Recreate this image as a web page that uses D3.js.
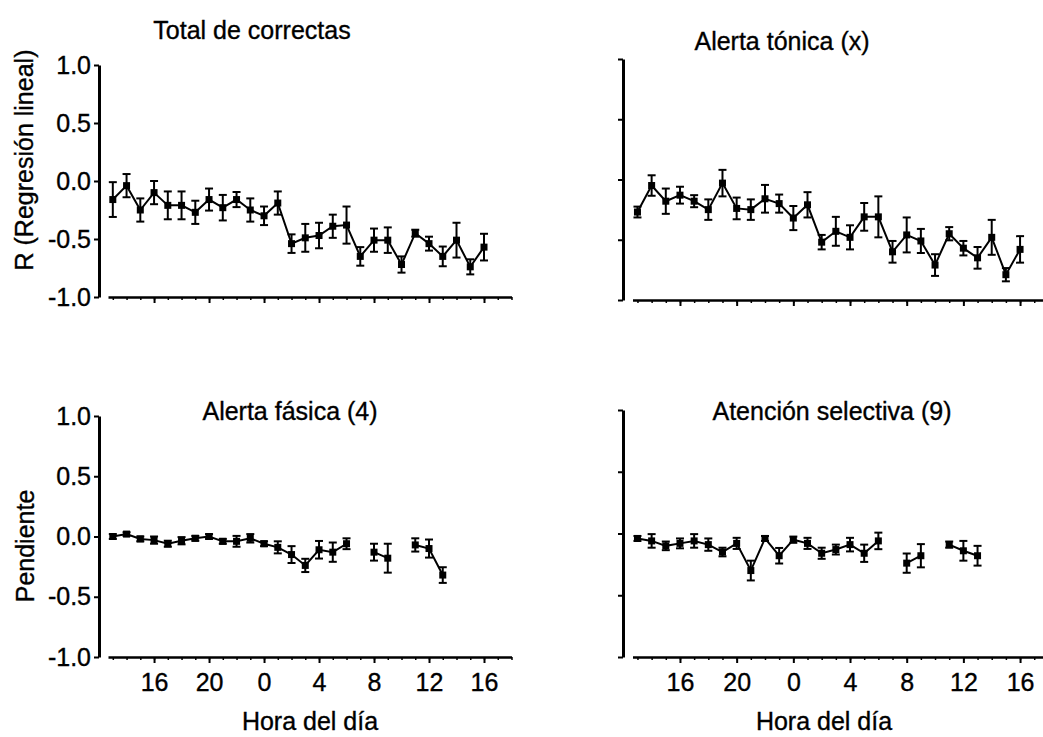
<!DOCTYPE html>
<html>
<head>
<meta charset="utf-8">
<script src="https://cdn.jsdelivr.net/npm/d3@7"></script>
<style>
  html, body { margin: 0; padding: 0; background: #fff; }
  svg text { font-family: "Liberation Sans", Arial, sans-serif; fill: #000; stroke: #000; stroke-width: 0.35px; }
</style>
</head>
<body>
<svg id="chart" width="1043" height="737"></svg>
<script>
// Hours are counted continuously from the start of the first day (24 = midnight).
const hours = d3.range(13, 41);                       // 13 .. 40, one session per hour
const hourTicks = [16, 20, 24, 28, 32, 36, 40];
const hourTickLabels = ["16", "20", "0", "4", "8", "12", "16"];
const minorHours = d3.range(13, 43);
const yTicks = [1.0, 0.5, 0.0, -0.5, -1.0];

// Total de correctas: R of linear regression (mean, SEM)
const totalMean = [-0.16, -0.04, -0.25, -0.10, -0.21, -0.21, -0.27, -0.16, -0.23, -0.16, -0.25, -0.30, -0.19, -0.54,
                   -0.49, -0.47, -0.39, -0.38, -0.65, -0.51, -0.51, -0.72, -0.45, -0.54, -0.65, -0.51, -0.74, -0.57];
const totalErr  = [0.15, 0.10, 0.10, 0.10, 0.12, 0.12, 0.10, 0.095, 0.11, 0.065, 0.10, 0.08, 0.10, 0.08,
                   0.12, 0.11, 0.10, 0.16, 0.08, 0.10, 0.11, 0.07, 0.03, 0.06, 0.085, 0.15, 0.065, 0.115];

// Alerta tónica
const tonicMean = [-0.27, -0.05, -0.18, -0.13, -0.18, -0.25, -0.03, -0.24, -0.25, -0.16, -0.20, -0.32, -0.21, -0.52,
                   -0.43, -0.48, -0.31, -0.31, -0.60, -0.46, -0.51, -0.71, -0.45, -0.57, -0.65, -0.48, -0.79, -0.58];
const tonicErr  = [0.045, 0.085, 0.105, 0.07, 0.05, 0.085, 0.11, 0.09, 0.085, 0.115, 0.075, 0.10, 0.105, 0.06,
                   0.12, 0.10, 0.115, 0.17, 0.09, 0.145, 0.10, 0.09, 0.055, 0.06, 0.09, 0.145, 0.055, 0.11];

// Alerta fásica: slope (null = no session at that hour)
const phasicMean = [0.00, 0.02, -0.02, -0.03, -0.06, -0.035, -0.015, 0.00, -0.04, -0.04, -0.015, -0.06, -0.09, -0.15,
                    -0.24, -0.11, -0.13, -0.06, null, -0.13, -0.18, null, -0.07, -0.10, -0.32, null, null, null];
const phasicErr  = [0.02, 0.015, 0.02, 0.03, 0.025, 0.03, 0.02, 0.02, 0.02, 0.045, 0.035, 0.02, 0.05, 0.07,
                    0.055, 0.073, 0.08, 0.045, null, 0.07, 0.12, null, 0.055, 0.075, 0.065, null, null, null];

// Atención selectiva: slope
const selectMean = [-0.04, -0.06, -0.10, -0.08, -0.06, -0.09, -0.15, -0.08, -0.30, -0.04, -0.18, -0.05, -0.08, -0.16,
                    -0.13, -0.09, -0.16, -0.06, null, -0.24, -0.18, null, -0.09, -0.14, -0.18, null, null, null];
const selectErr  = [0.02, 0.055, 0.035, 0.04, 0.055, 0.05, 0.035, 0.045, 0.08, 0.02, 0.063, 0.025, 0.045, 0.045,
                    0.04, 0.055, 0.07, 0.067, null, 0.078, 0.094, null, 0.025, 0.08, 0.08, null, null, null];

const svg = d3.select("#chart");
const FONT = 25;

function rows(mean, err) {
  return hours.map((h, i) => ({ h, v: mean[i], e: err[i] }));
}

// Panel frames: x spans the hour axis, y spans -1 .. 1
const panels = [
  { title: "Total de correctas",      tx: 252, ty: 39,  data: rows(totalMean, totalErr),
    xr: [108, 511.5], yr: [297, 65],  ax: 99,  yLabels: true,  xLabels: false },
  { title: "Alerta tónica (x)",       tx: 782, ty: 50,  data: rows(tonicMean, tonicErr),
    xr: [632.5, 1048.4], yr: [300, 59], ax: 623, yLabels: false, xLabels: false },
  { title: "Alerta fásica (4)",       tx: 290, ty: 420, data: rows(phasicMean, phasicErr),
    xr: [108, 511.5], yr: [657, 416], ax: 99,  yLabels: true,  xLabels: true },
  { title: "Atención selectiva (9)",  tx: 832, ty: 420, data: rows(selectMean, selectErr),
    xr: [632.5, 1048.4], yr: [657, 410], ax: 623, yLabels: false, xLabels: true }
];

panels.forEach(p => {
  const x = d3.scaleLinear().domain([12.65, 42]).range(p.xr);
  const y = d3.scaleLinear().domain([-1, 1]).range(p.yr);
  const g = svg.append("g");

  // y axis
  const yAxis = d3.axisLeft(y).tickValues(yTicks).tickSize(5).tickSizeOuter(0)
    .tickPadding(3).tickFormat(p.yLabels ? (d => d.toFixed(1)) : "");
  const ya = g.append("g").attr("transform", `translate(${p.ax},0)`).call(yAxis);
  ya.select(".domain").attr("stroke-width", 3);
  ya.selectAll(".tick line").attr("stroke-width", 2);
  ya.selectAll(".tick text").style("font-size", FONT + "px").attr("font-family", null);

  // x axis: minor hourly ticks, longer ticks every 4 h
  const x0 = y(-1);
  const xMinor = d3.axisBottom(x).tickValues(minorHours).tickSize(3).tickSizeOuter(0).tickFormat("");
  const xm = g.append("g").attr("transform", `translate(0,${x0})`).call(xMinor);
  xm.select(".domain").attr("stroke-width", 2.5);
  xm.selectAll(".tick line").attr("stroke-width", 1.5);

  const xMajor = d3.axisBottom(x).tickValues(hourTicks).tickSize(6).tickSizeOuter(0)
    .tickPadding(10)
    .tickFormat(p.xLabels ? ((d, i) => hourTickLabels[i]) : "");
  const xM = g.append("g").attr("transform", `translate(0,${x0})`).call(xMajor);
  xM.select(".domain").remove();
  xM.selectAll(".tick line").attr("stroke-width", 2);
  xM.selectAll(".tick text").style("font-size", FONT + "px").attr("font-family", null);

  // title
  g.append("text").attr("x", p.tx).attr("y", p.ty).attr("text-anchor", "middle")
    .style("font-size", FONT + "px").text(p.title);

  const pts = p.data.filter(d => d.v !== null);

  // connecting line, broken where an hour is missing
  const line = d3.line().defined(d => d.v !== null).x(d => x(d.h)).y(d => y(d.v));
  g.append("path").datum(p.data).attr("d", line)
    .attr("fill", "none").attr("stroke", "#000").attr("stroke-width", 2);

  // error bars
  const eb = g.append("g").attr("stroke", "#000").attr("stroke-width", 2);
  pts.forEach(d => {
    const cx = x(d.h), top = y(d.v + d.e), bot = y(d.v - d.e);
    eb.append("line").attr("x1", cx).attr("x2", cx).attr("y1", top).attr("y2", bot);
    eb.append("line").attr("x1", cx - 4).attr("x2", cx + 4).attr("y1", top).attr("y2", top);
    eb.append("line").attr("x1", cx - 4).attr("x2", cx + 4).attr("y1", bot).attr("y2", bot);
  });

  // markers
  g.append("g").selectAll("rect").data(pts).join("rect")
    .attr("x", d => x(d.h) - 3.5).attr("y", d => y(d.v) - 3.5)
    .attr("width", 7).attr("height", 7).attr("fill", "#000");
});

// axis titles
svg.append("text").attr("transform", "translate(33,160) rotate(-90)")
  .attr("text-anchor", "middle").style("font-size", FONT + "px").text("R (Regresión lineal)");
svg.append("text").attr("transform", "translate(34,546) rotate(-90)")
  .attr("text-anchor", "middle").style("font-size", FONT + "px").text("Pendiente");
svg.append("text").attr("x", 310).attr("y", 730).attr("text-anchor", "middle")
  .style("font-size", FONT + "px").text("Hora del día");
svg.append("text").attr("x", 824).attr("y", 730).attr("text-anchor", "middle")
  .style("font-size", FONT + "px").text("Hora del día");
</script>
</body>
</html>
